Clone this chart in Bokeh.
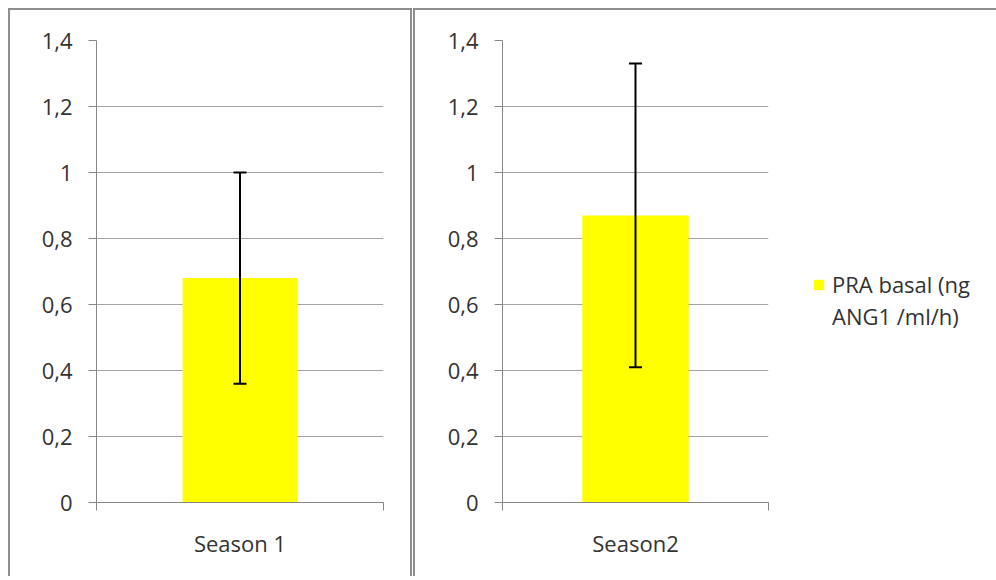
from bokeh.plotting import figure
from bokeh.models import (Range1d, FixedTicker, LinearAxis, ColumnDataSource, Whisker,
                          TeeHead, Legend, LegendItem, Grid)
from bokeh.layouts import row
from bokeh.embed import file_html
from bokeh.resources import INLINE

# ---- data ----
categories = ["Season 1", "Season2"]
means = [0.68, 0.87]
err_lower = [0.36, 0.41]
err_upper = [1.00, 1.33]
y_ticks = [0, 0.2, 0.4, 0.6, 0.8, 1, 1.2, 1.4]
y_tick_labels = ["0", "0,2", "0,4", "0,6", "0,8", "1", "1,2", "1,4"]
legend_lines = ["PRA basal (ng", "ANG1 /ml/h)"]

FONT = "Open Sans"
FSIZE = "22px"
TEXT = "#333333"
AXIS = "#878787"
GRID = "#a3a3a3"
BORDER = "#8e8e8e"
BAR = "#ffff00"
H = 568
BLINE = f"2px solid {BORDER}"


def base_fig(width, **kw):
    p = figure(width=width, height=H, x_range=Range1d(0, 1), y_range=Range1d(0, 1.4),
               output_backend="svg", toolbar_location=None,
               x_axis_location=None, y_axis_location=None, **kw)
    p.outline_line_color = None
    p.background_fill_color = "white"
    p.border_fill_color = None
    p.center = [r for r in p.center if not isinstance(r, Grid)]
    return p


def make_panel(i, width, min_left, min_right):
    p = base_fig(width, min_border_left=min_left, min_border_right=min_right,
                 min_border_top=30, min_border_bottom=H - 462 - 30)

    yaxis = LinearAxis(ticker=FixedTicker(ticks=y_ticks),
                       major_label_overrides={t: l for t, l in zip(y_ticks, y_tick_labels)},
                       major_tick_out=8, major_tick_in=0, minor_tick_line_color=None,
                       axis_line_color=AXIS, major_tick_line_color=AXIS,
                       major_label_standoff=16, major_label_text_font=FONT,
                       major_label_text_font_size=FSIZE, major_label_text_color=TEXT)
    p.add_layout(yaxis, "left")
    p.add_layout(Grid(dimension=1, ticker=yaxis.ticker, grid_line_color=GRID))

    n = 1
    bounds = [k for k in range(n + 1)]
    centers = [k + 0.5 for k in range(n)]
    xaxis = LinearAxis(ticker=FixedTicker(ticks=centers, minor_ticks=bounds),
                       major_label_overrides={centers[0]: categories[i]},
                       axis_line_color=AXIS, major_tick_line_color=None,
                       major_tick_out=0, major_tick_in=0,
                       minor_tick_line_color=AXIS, minor_tick_out=8, minor_tick_in=0,
                       major_label_standoff=17, major_label_text_font=FONT,
                       major_label_text_font_size=FSIZE, major_label_text_color=TEXT)
    p.add_layout(xaxis, "below")

    src = ColumnDataSource(dict(x=centers, top=[means[i]],
                                lower=[err_lower[i]], upper=[err_upper[i]]))
    p.vbar(x="x", top="top", width=0.4, source=src, fill_color=BAR, line_color=None)
    wh = Whisker(base="x", upper="upper", lower="lower", source=src, level="overlay",
                 line_color="black", line_width=2,
                 upper_head=TeeHead(size=13, line_width=2, line_color="black"),
                 lower_head=TeeHead(size=13, line_width=2, line_color="black"))
    p.add_layout(wh)
    return p


# left panel (outer box 8..412 incl. borders)
p1 = make_panel(0, 404, 86, 31)
p1.margin = (8, 0, 0, 8)
p1.styles = {"border-top": BLINE, "border-left": BLINE, "border-right": BLINE}

# right panel (outer box from 413)
p2 = make_panel(1, 377, 87, 24)
p2.margin = (8, 0, 0, 1)
p2.styles = {"border-top": BLINE, "border-left": BLINE}

# legend area (continuation of the right panel)
p3 = base_fig(206, min_border_left=0, min_border_right=0, min_border_top=0, min_border_bottom=0)
p3.margin = (8, 0, 0, 0)
p3.styles = {"border-top": BLINE}
swatch = p3.vbar(x=[0.5], top=[means[1]], width=0.4, fill_color=BAR, line_color=None,
                 visible=False)
ghost = p3.vbar(x=[], top=[], width=0.4, fill_alpha=0, line_alpha=0)
legend = Legend(items=[LegendItem(label=legend_lines[0], renderers=[swatch]),
                       LegendItem(label=legend_lines[1], renderers=[ghost])],
                location=(22, 170), orientation="vertical",
                border_line_color=None, background_fill_alpha=0,
                inactive_fill_alpha=0,
                padding=0, spacing=0, margin=0, label_height=32,
                glyph_width=13, glyph_height=13, label_standoff=7,
                label_text_font=FONT, label_text_font_size=FSIZE,
                label_text_color=TEXT)
p3.add_layout(legend, "center")

layout = row(p1, p2, p3)

open("out.html", "w").write(file_html(layout, INLINE))
